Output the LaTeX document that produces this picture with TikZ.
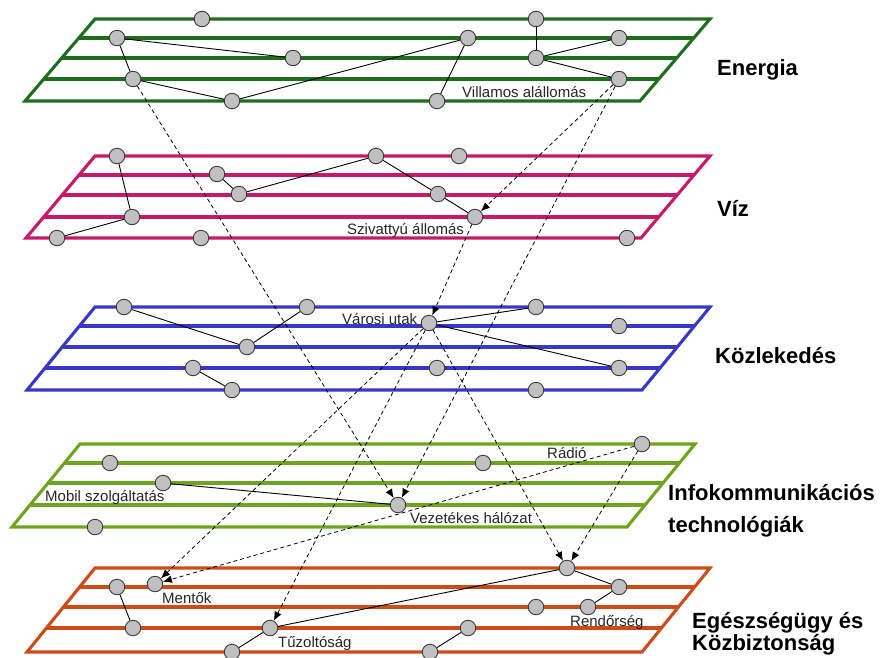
\documentclass[tikz,border=0pt]{standalone}
\usepackage{fontspec}
\setmainfont{Liberation Sans}
\usetikzlibrary{arrows.meta}
\definecolor{cEn}{RGB}{30,110,30}
\definecolor{cViz}{RGB}{200,25,105}
\definecolor{cKoz}{RGB}{55,55,200}
\definecolor{cInf}{RGB}{110,165,30}
\definecolor{cEgy}{RGB}{205,75,25}
\definecolor{dotfill}{RGB}{192,192,192}
\definecolor{dotdraw}{RGB}{60,60,60}
\newcommand{\planelayer}[8]{%
  \draw[layerline,#1] (#2,#4) -- (#2+615,#4) -- (#3+615,#8) -- (#3,#8) -- cycle;
  \foreach \yy in {#5,#6,#7}{%
    \pgfmathsetmacro{\xl}{#2+(#3-#2)*(\yy-#4)/(#8-#4)}
    \draw[layerline,#1] (\xl,\yy) -- ++(615,0);
  }%
}
\begin{document}
\begin{tikzpicture}[x=1pt,y=-1pt,
  layerline/.style={line width=3.1pt,line join=miter},
  dot/.style={circle,draw=dotdraw,fill=dotfill,line width=0.9pt,minimum size=15.5pt,inner sep=0pt},
  link/.style={draw=black,line width=0.9pt},
  dep/.style={draw=black,line width=0.8pt,dash pattern=on 4pt off 3pt,-{Latex[length=9pt,width=7.5pt]}},
  lbl/.style={font=\fontsize{15}{18}\selectfont,text=black!85,inner sep=0pt,anchor=base west},
  ttl/.style={font=\fontsize{22}{24}\selectfont\bfseries,inner sep=0pt,anchor=base west}]
\useasboundingbox (0,0) rectangle (887,657);

% layers
\planelayer{cEn}{95}{25}{19}{38}{58}{79}{101}
\planelayer{cViz}{95}{26}{156}{175}{195}{217}{238}
\planelayer{cKoz}{95}{27}{307}{326}{347}{368}{390}
\planelayer{cInf}{80}{12}{444}{463}{483}{505}{527}
\planelayer{cEgy}{95}{27}{568}{587}{607}{628}{652}

% nodes: Energia
\node[dot] (a1) at (202,19) {};
\node[dot] (a2) at (117,38) {};
\node[dot] (a3) at (293,58) {};
\node[dot] (a4) at (133,79) {};
\node[dot] (a5) at (232,101) {};
\node[dot] (a6) at (437,101) {};
\node[dot] (a7) at (468,38) {};
\node[dot] (a8) at (536,19) {};
\node[dot] (a9) at (536,58) {};
\node[dot] (a10) at (619,38) {};
\node[dot] (a11) at (619,79) {};
% Viz
\node[dot] (b1) at (117,156) {};
\node[dot] (b2) at (217,174) {};
\node[dot] (b3) at (239,194) {};
\node[dot] (b4) at (376,156) {};
\node[dot] (b5) at (438,194) {};
\node[dot] (b6) at (475,217) {};
\node[dot] (b7) at (459,156) {};
\node[dot] (b8) at (132,217) {};
\node[dot] (b9) at (57,238) {};
\node[dot] (b10) at (201,238) {};
\node[dot] (b11) at (627,238) {};
% Kozlekedes
\node[dot] (c1) at (124,307) {};
\node[dot] (c2) at (307,307) {};
\node[dot] (c3) at (247,347) {};
\node[dot] (c4) at (429,323) {};
\node[dot] (c5) at (536,307) {};
\node[dot] (c6) at (619,326) {};
\node[dot] (c7) at (619,368) {};
\node[dot] (c8) at (437,368) {};
\node[dot] (c9) at (536,390) {};
\node[dot] (c10) at (193,368) {};
\node[dot] (c11) at (232,390) {};
% Info
\node[dot] (d1) at (110,463) {};
\node[dot] (d2) at (163,483) {};
\node[dot] (d3) at (398,505) {};
\node[dot] (d4) at (95,527) {};
\node[dot] (d5) at (483,463) {};
\node[dot] (d6) at (642,444) {};
% Egeszsegugy
\node[dot] (e1) at (117,587) {};
\node[dot] (e2) at (155,584) {};
\node[dot] (e3) at (133,628) {};
\node[dot] (e4) at (270,628) {};
\node[dot] (e5) at (232,652) {};
\node[dot] (e6) at (430,652) {};
\node[dot] (e7) at (567,568) {};
\node[dot] (e8) at (619,587) {};
\node[dot] (e9) at (536,607) {};
\node[dot] (e10) at (588,607) {};
\node[dot] (e11) at (468,628) {};

% solid links
\draw[link] (a2) -- (a3);
\draw[link] (a2) -- (a4);
\draw[link] (a4) -- (a5);
\draw[link] (a5) -- (a7);
\draw[link] (a6) -- (a7);
\draw[link] (a8) -- (a9);
\draw[link] (a9) -- (a10);
\draw[link] (a9) -- (a11);
\draw[link] (b1) -- (b8);
\draw[link] (b8) -- (b9);
\draw[link] (b2) -- (b3);
\draw[link] (b3) -- (b4);
\draw[link] (b4) -- (b5);
\draw[link] (b5) -- (b6);
\draw[link] (c1) -- (c3);
\draw[link] (c3) -- (c2);
\draw[link] (c4) -- (c5);
\draw[link] (c4) -- (c7);
\draw[link] (c10) -- (c11);
\draw[link] (d2) -- (d3);
\draw[link] (e1) -- (e3);
\draw[link] (e4) -- (e5);
\draw[link] (e4) -- (e7);
\draw[link] (e7) -- (e8);
\draw[link] (e8) -- (e10);
\draw[link] (e6) -- (e11);

% dependencies
\draw[dep] (a4) -- (d3);
\draw[dep] (a11) -- (b6);
\draw[dep] (a11) -- (d3);
\draw[dep] (b6) -- (c4);
\draw[dep] (c4) -- (e2);
\draw[dep] (c4) -- (e4);
\draw[dep] (c4) -- (e7);
\draw[dep] (d6) -- (e2);
\draw[dep] (d6) -- (e7);

% small labels
\node[lbl] (l1) at (462,97) {Villamos alállomás};
\node[lbl] (l2) at (347,234) {Szivattyú állomás};
\node[lbl] (l3) at (342,324) {Városi utak};
\node[lbl] (l4) at (45,501) {Mobil szolgáltatás};
\node[lbl] (l5) at (547,458) {Rádió};
\node[lbl] (l6) at (410,523) {Vezetékes hálózat};
\node[lbl] (l7) at (162,603) {Mentők};
\node[lbl] (l8) at (278,647) {Tűzoltóság};
\node[lbl] (l9) at (570,626) {Rendőrség};

% titles
\node[ttl] (t1) at (717,75) {Energia};
\node[ttl] (t2) at (717,216) {Víz};
\node[ttl] (t3) at (715,363) {Közlekedés};
\node[ttl] (t4a) at (668,500) {Infokommunikációs};
\node[ttl] (t4b) at (668,532) {technológiák};
\node[ttl] (t5a) at (692,628) {Egészségügy és};
\node[ttl] (t5b) at (692,650) {Közbiztonság};
\end{tikzpicture}
\end{document}
